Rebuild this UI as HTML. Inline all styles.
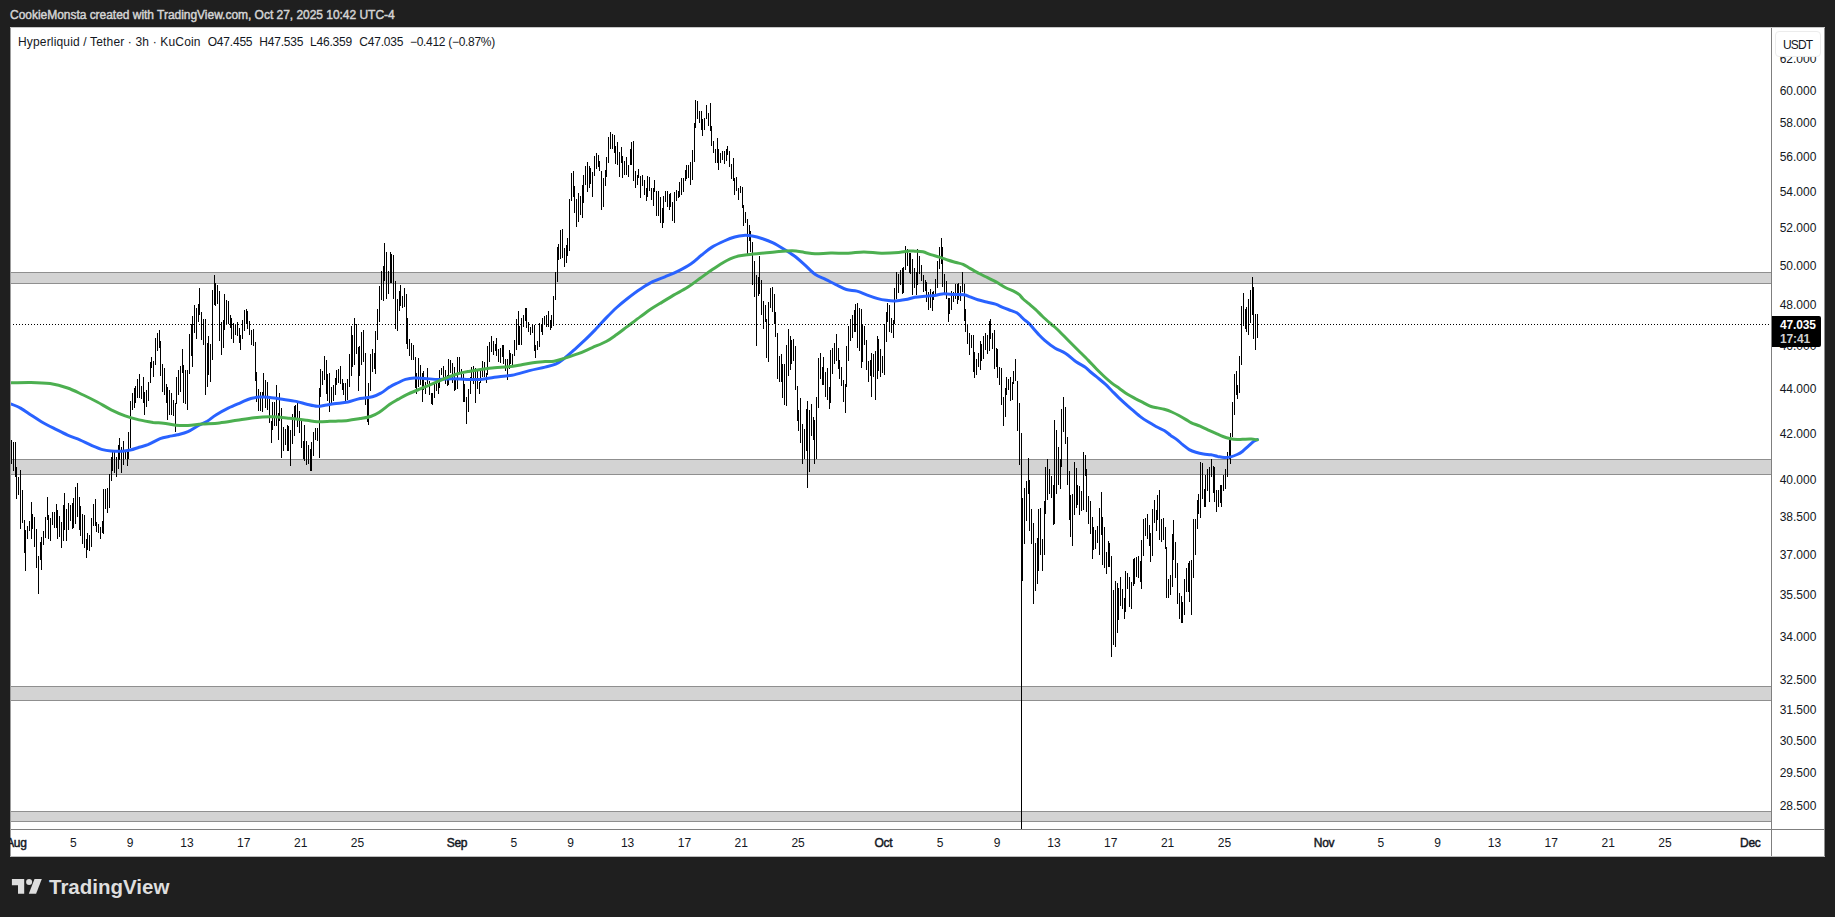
<!DOCTYPE html>
<html><head><meta charset="utf-8"><title>HYPEUSDT chart</title>
<style>
html,body{margin:0;padding:0;}
body{width:1835px;height:917px;background:#1f1f1f;overflow:hidden;position:relative;font-family:"Liberation Sans",sans-serif;}
#hdr{position:absolute;left:10px;top:7px;height:16px;line-height:16px;font-size:12px;font-weight:normal;color:#d4d4d4;-webkit-text-stroke:0.45px #d4d4d4;white-space:nowrap;letter-spacing:-0.03px;}
#chart{position:absolute;left:10px;top:27px;width:1815px;height:830px;background:#fff;overflow:hidden;}
#chart svg{position:absolute;left:0;top:0;}
#legend{position:absolute;left:8px;top:8px;height:14px;line-height:14px;font-size:12px;color:#131722;white-space:nowrap;letter-spacing:-0.2px;}
#legend span{position:absolute;top:0;}
.pl{position:absolute;left:1762px;width:52px;text-align:center;font-size:12px;height:14px;line-height:14px;color:#131722;}
.tl{position:absolute;top:809px;width:40px;margin-left:-20px;text-align:center;font-size:12px;height:14px;line-height:14px;color:#131722;}
.tl.b{font-weight:normal;-webkit-text-stroke:0.45px #131722;letter-spacing:-0.3px;}
#usdt{position:absolute;left:1765px;top:4px;width:44px;height:24px;border:1px solid #ececec;border-radius:4px;background:#fff;font-size:12px;line-height:26px;text-align:center;color:#131722;letter-spacing:-0.9px;text-indent:-0.9px;}
#last{position:absolute;left:1762px;top:289px;width:41px;padding-left:8px;height:31px;background:#000;border-radius:0 2px 2px 0;color:#fff;font-size:12px;text-align:left;letter-spacing:-0.15px;}
#last b{display:block;height:14px;line-height:14px;margin-top:2px;}
#last span{display:block;height:14px;line-height:14px;color:#d0d0d0;font-weight:bold;}
</style></head><body>
<div id="hdr">CookieMonsta created with TradingView.com, Oct 27, 2025 10:42 UTC-4</div>
<div id="chart">
<svg width="1815" height="830" viewBox="10 27 1815 830">
<rect x="10" y="272" width="1761" height="12" fill="#d3d3d3"/>
<rect x="10" y="272" width="1761" height="1" fill="#8f8f8f"/>
<rect x="10" y="283" width="1761" height="1" fill="#8f8f8f"/>
<rect x="10" y="459" width="1761" height="16" fill="#d3d3d3"/>
<rect x="10" y="459" width="1761" height="1" fill="#8f8f8f"/>
<rect x="10" y="474" width="1761" height="1" fill="#8f8f8f"/>
<rect x="10" y="686" width="1761" height="15" fill="#d3d3d3"/>
<rect x="10" y="686" width="1761" height="1" fill="#8f8f8f"/>
<rect x="10" y="700" width="1761" height="1" fill="#8f8f8f"/>
<rect x="10" y="811" width="1761" height="11" fill="#d3d3d3"/>
<rect x="10" y="811" width="1761" height="1" fill="#8f8f8f"/>
<rect x="10" y="821" width="1761" height="1" fill="#8f8f8f"/>
<path d="M11.5 440.1V463.7M13.5 442.1V470.5M15.5 442.1V476.7M16.5 466.9V498.8M18.5 477.2V494.7M20.5 470V528.6M22.5 490.2V522.8M24.5 520.1V552.7M25.5 530.1V570.8M27.5 526V538.7M29.5 521.1V530.6M31.5 502V539.4M32.5 514V528.6M34.5 517V546.8M36.5 529.1V567.7M38.5 556.1V593.7M40.5 541.9V559.6M41.5 537V569.7M43.5 531.1V544.5M45.5 517V537.7M47.5 497V519.6M48.5 515V538.7M50.5 518V540.6M52.5 512V524.7M54.5 512V527.7M56.5 504.2V527.7M57.5 510V539.4M59.5 516V536.5M61.5 522V547.6M63.5 504.9V540.6M64.5 493.1V529.6M66.5 509.1V540.6M68.5 502.9V529.6M70.5 505.2V520.6M72.5 502.9V528.6M73.5 498.1V527.7M75.5 487V523.7M77.5 483.1V516.6M79.5 497V529.6M80.5 506.1V535.7M82.5 514V543.6M84.5 515V547.6M86.5 539.1V557.6M87.5 533.1V549.7M89.5 535V550.7M91.5 518V546.8M93.5 504.2V525.7M95.5 499.1V526.2M96.5 522V531.8M98.5 523.9V532.6M100.5 527.2V538.7M102.5 521V533M103.5 489V533.6M105.5 489V508.6M107.5 488V512.5M109.5 474.3V507.8M111.5 457.1V480.6M112.5 451.7V470.8M114.5 452.2V472.8M116.5 457.1V476.7M118.5 444.8V468.9M119.5 438.1V459.5M121.5 447.1V472.8M123.5 441.1V464.7M125.5 450.7V459M127.5 452.2V465.7M128.5 432V459M130.5 400.9V447.8M132.5 393V409.6M134.5 387.8V407.9M135.5 386.1V402.6M137.5 379.1V398.3M139.5 374.2V398.3M141.5 386.1V399.1M143.5 377.3V402.6M144.5 392.2V414.9M146.5 390.4V407M148.5 381.7V400.9M150.5 361.6V382.6M151.5 356.7V367.7M153.5 360.8V377.3M155.5 338.1V365.1M157.5 333.2V351.2M159.5 330.2V347.7M160.5 340.7V375.6M162.5 364.2V392.2M164.5 368.1V394.8M166.5 384.3V402.6M167.5 386.9V420.1M169.5 389.5V414.9M171.5 393V414.9M173.5 400V415.7M175.5 402.6V432M176.5 377.3V404.4M178.5 370.3V394.8M180.5 366V392.2M182.5 349.4V373M183.5 365.1V402.6M185.5 369.5V404.4M187.5 370.3V409.6M189.5 334.2V373.8M191.5 324.1V356.4M192.5 316.2V366.9M194.5 304.9V332.8M196.5 307.5V338.9M198.5 304V322.4M199.5 288V314.5M201.5 311.9V339.8M203.5 318.9V345M205.5 318.5V394.8M207.5 343.3V386.9M208.5 336.3V374.7M210.5 344.2V381.7M212.5 290.1V359.9M214.5 275.2V304.9M215.5 283.1V305.8M217.5 284.8V304M219.5 290.9V340.7M221.5 321.5V354.6M223.5 319.7V347.7M224.5 294.4V330.2M226.5 299.7V324.1M228.5 301.1V324.1M230.5 315V327.6M231.5 318V338.9M233.5 323.2V342.9M235.5 325V335.4M237.5 322V336.3M239.5 327.6V343.3M240.5 335.4V349.8M242.5 320.3V338.6M244.5 309.8V331.1M246.5 309.3V324.1M247.5 311V329.3M249.5 320.6V335.4M251.5 330.2V345M253.5 329.3V345.9M255.5 341.9V380.8M256.5 372.1V401.6M258.5 388.7V410.9M260.5 392.2V411.4M262.5 392.3V411.9M263.5 373.3V395.7M265.5 379.9V407.9M267.5 381.7V409.6M269.5 399.1V422.7M271.5 421V442.8M272.5 401.8V430M274.5 402.1V426.1M276.5 384.9V425.6M278.5 413.4V439.9M279.5 392.8V421.2M281.5 407.9V457.5M283.5 427.1V450.7M285.5 429.1V444.8M287.5 425.1V450.7M288.5 425.6V450.7M290.5 430V465.9M292.5 414.3V443.8M294.5 406V435.9M295.5 405V417.8M297.5 403.1V426.6M299.5 410.9V433M301.5 420.2V447.7M303.5 440.8V458.5M304.5 425.1V461M306.5 441V465.4M308.5 445.3V464.4M310.5 449.2V470.5M311.5 442V470.5M313.5 432V456.1M315.5 428.1V439.9M317.5 428.1V440.8M319.5 388.2V458M320.5 369.4V396.7M322.5 371.2V384.5M324.5 355.8V379.9M326.5 359.8V393.7M327.5 373.7V400.6M329.5 373.2V411.9M331.5 386.8V403.6M333.5 385V401.1M335.5 378.1V394.7M336.5 369.7V384.5M338.5 369.3V383.3M340.5 366V383.9M342.5 379V389.8M343.5 383.3V394.7M345.5 382.9V401.1M347.5 379V399.6M349.5 354.1V386.9M351.5 325.8V375.7M352.5 334.8V366.8M354.5 318.2V365M356.5 324.4V353.7M358.5 347.2V390.8M359.5 345.8V375.7M361.5 332V365M363.5 330.1V361.9M365.5 353.1V404.5M367.5 399V421.5M368.5 382.9V424.7M370.5 354.1V390.8M372.5 349.2V371.7M374.5 352.8V369.4M375.5 331V373.7M377.5 309.1V339.8M379.5 285.6V321.7M381.5 271.1V300.4M383.5 266.4V301.3M384.5 242.9V280.7M386.5 251.9V298.7M388.5 271.3V294.3M390.5 251.9V283M391.5 254.2V283M393.5 255.1V298.7M395.5 280.7V329.2M397.5 299.2V330.7M399.5 290.8V311.3M400.5 285.3V305.7M402.5 296.1V308.3M404.5 288.2V307.4M406.5 294.3V344.1M407.5 318.2V348.7M409.5 339.2V355.5M411.5 343.3V359.8M413.5 344.9V359.5M415.5 357.1V388M416.5 373.3V394.4M418.5 358.1V387M420.5 365.1V384.6M422.5 372.8V401.7M423.5 371.3V389.5M425.5 382.1V394.4M427.5 368.2V384.1M429.5 381.1V395.4M431.5 393.4V403.7M432.5 393.4V404.7M434.5 384.1V397.8M436.5 383.1V391.4M438.5 383.1V393.9M439.5 370V387.5M441.5 368.2V374.7M443.5 366.2V378.2M445.5 370.3V383.6M447.5 375.2V385.5M448.5 359V384.6M450.5 360.2V372.8M452.5 363.2V382.6M454.5 367.2V391.4M455.5 378.2V390M457.5 357.1V388.5M459.5 357.1V374.3M461.5 369.2V378.2M463.5 374.3V401.7M464.5 384.1V401.7M466.5 397V423.8M468.5 389V411.7M470.5 377.2V393.9M471.5 367.2V377.7M473.5 366.2V383.6M475.5 368.4V402.7M477.5 370.8V388.5M479.5 382.1V393.9M480.5 371.3V382.6M482.5 361.2V377.2M484.5 362.2V377.2M486.5 373.3V382.9M487.5 346.3V375.2M489.5 342.1V361.7M491.5 336V351.7M493.5 341.1V354.6M495.5 344V350.7M496.5 338.1V355.6M498.5 349.2V361.7M500.5 348.2V362.5M502.5 345V356.6M503.5 345V364.4M505.5 359V370.5M507.5 359V379.8M509.5 350.2V368.9M510.5 353.2V364.4M512.5 354.1V364.9M514.5 340V355.6M516.5 318.9V349.7M518.5 311V344.8M519.5 326.2V344.8M521.5 317.9V344.8M523.5 315V326.7M525.5 308.1V320.8M526.5 308.1V327.7M528.5 322V331.6M530.5 326.7V334.8M532.5 324V332.6M534.5 325.3V351.2M535.5 344.8V357.8M537.5 341V349.7M539.5 323V346.8M541.5 323.8V331.6M542.5 317.9V334.8M544.5 315.9V324.3M546.5 315V326.7M548.5 311V326.7M550.5 319.9V329.7M551.5 315V327.7M553.5 296.1V325.8M555.5 272.3V299.7M557.5 247.1V281.7M558.5 244.1V259.9M560.5 230.1V258.8M562.5 229V257.7M564.5 247.9V267M566.5 245.2V262.8M567.5 237.9V255.5M569.5 199V250.8M571.5 173.3V200.9M573.5 171.1V196.5M574.5 186.4V213M576.5 199V226.8M578.5 193.3V221.7M580.5 196.1V214.7M582.5 185.2V217.9M583.5 175.1V202.7M585.5 166.4V184.6M587.5 162.2V191.7M589.5 166.4V188.3M590.5 167.6V183.9M592.5 172.4V196.5M594.5 156.1V176.4M596.5 153.2V168.6M598.5 155.1V167M599.5 161.4V171.4M601.5 171.1V209.6M603.5 178.3V206.5M605.5 170.1V186.4M606.5 157V177M608.5 137.3V162.6M610.5 132.1V148.8M612.5 134.4V149.4M614.5 135.3V153.2M615.5 146.3V163.9M617.5 142.3V164.5M619.5 152.3V176.7M621.5 146.9V163.2M622.5 156.3V177.7M624.5 161.4V175.4M626.5 157V174.5M628.5 165.1V176.7M630.5 149.4V165.1M631.5 142.3V165.1M633.5 141.3V181.4M635.5 171.1V187.7M637.5 174.5V185.2M638.5 169.3V177.7M640.5 176.1V197.7M642.5 175.1V186.4M644.5 180.2V194.6M646.5 187.7V200.5M647.5 176.4V196.5M649.5 177.4V190.8M651.5 187.7V199.6M653.5 188.3V205.9M654.5 180.2V192.1M656.5 191.4V215.5M658.5 191.2V215.5M660.5 197.1V222.8M662.5 207.8V227.6M663.5 196.2V223.4M665.5 191.2V201.7M667.5 191.2V206.5M669.5 194.2V209.6M670.5 193.3V207.1M672.5 202.1V220.5M674.5 192.1V222.8M676.5 190.4V200.9M678.5 190.8V197.7M679.5 182V196.5M681.5 178.3V194.6M683.5 178.3V191.7M685.5 169.5V180.8M686.5 165.4V178.9M688.5 165.1V177.7M690.5 162.4V185.4M692.5 150.1V179.9M694.5 123V161.6M695.5 100.1V127.6M697.5 101.3V118.8M699.5 111.3V122.7M701.5 111.3V129.6M702.5 119.3V135.8M704.5 118.3V129.6M706.5 105.2V118.8M708.5 113.2V125.7M710.5 103.2V130.6M711.5 126.3V145.7M713.5 141.3V152.6M715.5 149.2V162.6M717.5 138.2V162.6M718.5 149.2V170.4M720.5 152.6V162.6M722.5 151.3V159.5M724.5 151.3V163.6M726.5 149.4V160.7M727.5 146.3V154.5M729.5 151.3V167.4M731.5 163.9V178.7M733.5 158.2V181.4M734.5 178.3V194.6M736.5 177.4V191.4M738.5 187.9V199.6M740.5 186.2V192.7M742.5 187.1V207.8M743.5 204.6V225.6M745.5 212.1V222.8M747.5 219.1V253.8M749.5 225.3V240.5M750.5 231.2V251.8M752.5 242.2V284.7M754.5 261.1V296.5M756.5 275.1V345.5M758.5 276.8V296M759.5 256.2V293.5M761.5 280.3V314.6M763.5 301.1V328.9M765.5 305.3V322M766.5 318.6V357.8M768.5 301.8V361.7M770.5 288.1V307.8M772.5 287.1V311.7M774.5 294V324.4M775.5 312.2V336.7M777.5 333.3V378.9M779.5 356V381.7M781.5 354.1V381.7M782.5 364.2V397.6M784.5 364.2V404.7M786.5 345V405.7M788.5 329.2V376M790.5 336.2V369.8M791.5 340.1V363.7M793.5 339.2V360.8M795.5 346V389.7M797.5 386.3V420.6M798.5 409.8V430.7M800.5 398.1V442.7M802.5 424.1V463.8M804.5 429V459.4M806.5 409.2V450.6M807.5 401V487.9M809.5 409.8V471.7M811.5 404.1V435.8M813.5 417.2V439.8M814.5 420.1V463.8M816.5 397.1V459.4M818.5 358V407.6M820.5 353.1V379.4M822.5 367.1V385.3M823.5 357V384.8M825.5 372V396.6M827.5 368.1V399.5M829.5 387.3V408.6M830.5 350V402.5M832.5 348V374M834.5 343.1V363.7M836.5 334.1V360.8M838.5 348V368.6M839.5 360.3V379.4M841.5 367.1V385.6M843.5 380.1V401.5M845.5 383.8V412.6M846.5 346V386.8M848.5 326.2V360.8M850.5 319V340.6M852.5 315.1V337.7M854.5 310.2V331.8M855.5 304V331.8M857.5 303V348M859.5 308.2V350.9M861.5 309.2V367.6M862.5 324.1V361.7M864.5 326.2V344.6M866.5 340.1V369.8M868.5 361.2V381.7M870.5 360.3V376M871.5 353.1V396.6M873.5 354.1V376.5M875.5 351.1V399.5M877.5 336.2V379.4M878.5 339.2V370.6M880.5 349V376.5M882.5 356V373M884.5 324.1V375M886.5 312.2V341.9M887.5 303V321.5M889.5 305.3V331.8M891.5 318.1V332.8M893.5 320V337.7M894.5 288.1V324.4M896.5 272.4V299.4M898.5 273.9V292.5M900.5 269.5V285.2M902.5 268V293.5M903.5 267V292.5M905.5 246.2V270.4M907.5 249.3V266M909.5 253.3V272.9M910.5 252.8V274.4M912.5 259.2V294.5M914.5 268V287.6M916.5 271.9V294.5M917.5 249.3V285.2M919.5 256.2V273.9M921.5 265.2V280.6M923.5 275.2V292.4M925.5 280.1V291.4M926.5 282.1V301.7M928.5 291.9V309.8M930.5 289V307.6M932.5 291.9V310.6M933.5 290.9V299.8M935.5 279.2V295.8M937.5 261V287.5M939.5 247.3V269.3M941.5 238.1V263.5M942.5 247.3V286.5M944.5 274.3V293.9M946.5 281.1V298.8M948.5 297.8V321.8M949.5 297.8V313.5M951.5 290.9V309.8M953.5 291.9V301.7M955.5 283.6V298.8M957.5 283.6V303.7M958.5 283.1V299.8M960.5 286V300.8M962.5 272.1V291.9M964.5 284.1V320.7M965.5 308.9V331.5M967.5 324.4V343.8M969.5 333.3V354.6M971.5 335.2V347.7M973.5 335.2V371.7M974.5 352.1V377.6M976.5 359V374.7M978.5 353.1V366.8M980.5 341.1V369.8M981.5 344.3V360.9M983.5 336.2V358.5M985.5 333.3V349.7M987.5 335.2V353.6M989.5 321.2V350.6M990.5 318.9V339.3M992.5 333.3V348.7M994.5 330.2V368.8M996.5 348.2V366.8M997.5 349.2V377.6M999.5 367V384.5M1001.5 368V404.6M1003.5 397.3V425.7M1005.5 388.4V417.4M1006.5 377.1V395.3M1008.5 379.1V390.4M1010.5 377.1V400.7M1012.5 382V399.7M1013.5 371.2V383.5M1015.5 359V381.1M1017.5 381.1V430.6M1019.5 403.2V464.5M1021.5 433.1V829M1022.5 498.2V580.8M1024.5 488.1V543.5M1026.5 481.2V521.4M1028.5 458.1V493.5M1029.5 480.2V530.8M1031.5 509.2V543.5M1033.5 523.1V604.4M1035.5 543V590.6M1037.5 538.1V583.8M1038.5 509.2V570.5M1040.5 508.2V555.3M1042.5 539.1V570.5M1044.5 501.1V555.3M1045.5 466.9V513.6M1047.5 459.1V500.3M1049.5 468.9V493.5M1051.5 476.3V498.4M1053.5 485.1V525.4M1054.5 420V524.4M1056.5 430.1V493.5M1058.5 447V484.6M1060.5 459.1V488.6M1061.5 409V466.5M1063.5 397.3V431.6M1065.5 407.1V443.9M1067.5 437V484.6M1069.5 470.9V519.5M1070.5 495.2V536.6M1072.5 494.1V545.5M1074.5 462V514.6M1076.5 467.9V507.7M1077.5 485.1V505.2M1079.5 486.1V514.6M1081.5 491.2V510.6M1083.5 452.2V509.7M1085.5 455.2V476.3M1086.5 468.9V511.6M1088.5 496.2V523.9M1090.5 501.1V533.7M1092.5 517V558.7M1093.5 527V550.4M1095.5 530.3V549.4M1097.5 526V542.5M1099.5 508.2V555.3M1101.5 492.2V534.7M1102.5 517V564.6M1104.5 527V567.6M1106.5 551.8V573.7M1108.5 541.1V566.6M1109.5 543V566.6M1111.5 556.3V656.7M1113.5 590.1V644.8M1115.5 581.1V646.8M1117.5 583.3V632.8M1118.5 588.2V619.8M1120.5 577.2V605.8M1122.5 589.2V608.8M1124.5 598V618.6M1125.5 571.2V611.7M1127.5 573.2V588.7M1129.5 577.2V606.8M1131.5 582.1V608.8M1133.5 559.2V585.7M1134.5 558.2V583.8M1136.5 557.3V576.9M1138.5 556.3V577.9M1140.5 561.2V581.8M1141.5 540.1V588.7M1143.5 519V555.6M1145.5 518V535.7M1147.5 514.1V538.6M1149.5 525.1V546M1150.5 533.2V561.7M1152.5 509.2V555.6M1154.5 500V522.9M1156.5 510.1V530.8M1157.5 495.2V519.5M1159.5 490.2V539.8M1161.5 519V541.5M1163.5 518V539.8M1165.5 527V549.4M1166.5 546.9V598M1168.5 579.2V598M1170.5 575.2V594.6M1172.5 534V586.7M1173.5 520.3V559.7M1175.5 541.8V577.7M1177.5 563.2V603.9M1179.5 593.1V618.6M1181.5 596V622.5M1182.5 601.9V622.5M1184.5 579.2V614.7M1186.5 568.1V591.6M1188.5 563.2V591.6M1189.5 561.2V602.4M1191.5 560.2V614.5M1193.5 519.3V577.7M1195.5 519.3V554.6M1197.5 500.1V528.6M1198.5 494.3V514.4M1200.5 462.1V517.8M1202.5 463.3V498.7M1204.5 489.2V506.5M1205.5 475.1V506.5M1207.5 469.2V490.8M1209.5 467.3V501.6M1211.5 459.1V476.6M1213.5 466.3V492.8M1214.5 467.3V501.6M1216.5 490V511.9M1218.5 490V506.5M1220.5 485.2V503.1M1221.5 485.2V506.5M1223.5 475.1V490.5M1225.5 469.2V488.9M1227.5 451.8V476.6M1229.5 440V459M1230.5 433V463.8M1232.5 402V436.8M1234.5 374V414.8M1236.5 371.1V394.7M1237.5 385V398.6M1239.5 356.1V392.7M1241.5 306.1V364.7M1243.5 293.1V326.4M1245.5 309.3V329.4M1246.5 307.1V332.3M1248.5 299.1V334.8M1250.5 290.1V322.5M1252.5 277.1V314.7M1253.5 287.2V338.7M1255.5 314.2V349.5M1257.5 314.2V337.7" stroke="#000" stroke-width="1" fill="none" shape-rendering="crispEdges"/>
<path d="M10.0 403.7C11.8 404.4 17.0 406.2 20.5 408.1C24.0 410.0 27.4 412.7 30.9 415.0C34.4 417.3 37.6 419.5 41.4 421.7C45.2 423.9 49.2 425.9 53.6 428.1C58.0 430.3 63.2 433.2 67.6 435.1C72.0 437.1 75.7 438.1 79.8 439.8C83.9 441.6 88.2 444.0 92.0 445.6C95.8 447.2 99.3 448.7 102.5 449.6C105.7 450.5 108.0 450.7 111.2 451.0C114.4 451.3 118.5 451.4 121.7 451.2C124.9 451.0 127.5 450.6 130.4 450.0C133.3 449.4 136.2 448.2 139.1 447.3C142.0 446.4 144.4 446.1 147.9 444.7C151.4 443.2 156.6 440.0 160.1 438.6C163.6 437.2 165.9 437.1 168.8 436.5C171.7 435.9 174.3 435.6 177.5 434.8C180.7 434.0 184.5 433.2 188.0 431.6C191.5 430.1 195.3 427.2 198.5 425.5C201.7 423.8 204.3 422.9 207.2 421.2C210.1 419.4 212.4 417.2 215.9 415.0C219.4 412.8 224.1 410.1 228.2 408.1C232.3 406.1 236.6 404.4 240.4 402.8C244.2 401.2 247.6 399.4 250.8 398.5C254.0 397.6 256.7 397.3 259.6 397.1C262.5 396.9 264.8 396.9 268.3 397.2C271.8 397.5 275.9 398.3 280.5 399.0C285.1 399.7 291.8 400.5 296.2 401.4C300.6 402.3 303.2 403.4 306.7 404.2C310.2 405.0 314.1 406.1 317.2 406.3C320.2 406.5 322.2 405.7 325.0 405.3C327.8 404.9 330.2 404.4 334.0 403.8C337.8 403.2 343.5 402.9 347.9 402.0C352.2 401.1 356.0 399.4 360.1 398.5C364.2 397.6 368.9 397.7 372.4 396.8C375.9 395.9 378.2 394.6 381.1 393.0C384.0 391.4 386.9 388.6 389.8 386.9C392.7 385.1 395.9 383.8 398.5 382.5C401.1 381.2 402.9 380.1 405.5 379.4C408.1 378.7 411.0 378.2 414.2 378.1C417.4 378.0 420.6 378.3 424.7 378.5C428.8 378.7 434.0 379.4 438.7 379.4C443.4 379.4 448.0 378.7 452.6 378.7C457.2 378.7 461.9 379.4 466.6 379.5C471.3 379.6 476.0 379.8 480.6 379.4C485.2 379.0 489.3 378.0 494.5 377.3C499.7 376.6 506.2 376.3 512.0 375.2C517.8 374.1 523.9 372.0 529.4 370.6C534.9 369.2 540.7 368.2 545.1 367.1C549.5 366.0 552.4 365.6 555.6 364.2C558.8 362.8 561.1 360.9 564.3 358.4C567.5 355.9 571.3 352.4 574.8 349.3C578.3 346.2 581.8 343.0 585.3 339.7C588.8 336.4 592.2 332.9 595.7 329.3C599.2 325.7 602.7 321.5 606.2 317.9C609.7 314.3 613.2 310.7 616.7 307.5C620.2 304.3 623.2 301.8 627.2 298.7C631.2 295.6 636.2 291.8 640.5 289.0C644.8 286.2 648.6 283.7 652.7 281.7C656.8 279.7 660.8 278.5 664.9 276.8C669.0 275.1 672.7 273.8 677.1 271.6C681.5 269.4 687.0 266.5 691.1 263.7C695.2 260.9 698.1 257.8 701.6 255.0C705.1 252.2 708.2 249.4 712.0 247.1C715.8 244.8 720.4 242.7 724.2 241.0C728.0 239.3 731.5 237.9 734.7 237.0C737.9 236.1 740.5 235.6 743.4 235.4C746.3 235.2 749.0 235.4 752.2 236.0C755.4 236.6 759.1 237.6 762.6 238.7C766.1 239.8 769.6 241.1 773.1 242.8C776.6 244.5 780.1 246.7 783.6 248.9C787.1 251.1 790.6 253.2 794.1 255.8C797.6 258.4 801.0 261.5 804.5 264.6C808.0 267.7 811.5 271.7 815.0 274.2C818.5 276.7 822.0 277.7 825.5 279.4C829.0 281.1 832.4 282.9 835.9 284.6C839.4 286.3 842.9 288.4 846.4 289.5C849.9 290.6 853.4 290.2 856.9 291.1C860.4 292.0 863.8 293.9 867.3 295.1C870.8 296.4 874.6 297.7 877.8 298.6C881.0 299.5 883.6 299.9 886.5 300.3C889.4 300.7 892.1 301.0 895.3 300.9C898.5 300.8 902.4 300.1 905.7 299.5C909.0 298.9 911.8 297.8 915.0 297.3C918.2 296.8 921.5 296.6 924.8 296.3C928.1 296.0 931.6 295.8 934.6 295.4C937.6 295.0 939.2 294.1 942.5 293.9C945.8 293.7 950.7 294.3 954.3 294.4C957.9 294.5 961.5 294.3 964.1 294.7C966.7 295.1 967.7 295.9 970.0 296.8C972.3 297.7 974.9 298.9 977.8 299.8C980.7 300.7 984.6 301.5 987.6 302.2C990.6 302.9 992.9 303.3 995.5 304.2C998.1 305.1 1000.7 306.5 1003.3 307.6C1005.9 308.7 1008.9 309.7 1011.2 310.6C1013.5 311.5 1015.5 312.0 1017.1 313.0C1018.7 314.0 1019.9 315.4 1021.0 316.5C1022.1 317.6 1022.6 318.3 1023.9 319.4C1025.2 320.5 1026.5 321.0 1028.8 323.3C1031.1 325.6 1035.0 330.6 1037.7 333.4C1040.4 336.2 1041.8 337.8 1044.7 340.3C1047.6 342.8 1051.7 346.0 1055.2 348.2C1058.7 350.4 1062.2 351.1 1065.7 353.4C1069.2 355.7 1072.9 359.5 1076.1 361.8C1079.3 364.1 1082.6 365.4 1084.9 367.0C1087.2 368.6 1087.9 369.7 1090.0 371.5C1092.1 373.3 1095.0 375.5 1097.6 377.6C1100.1 379.7 1102.9 382.0 1105.3 384.2C1107.7 386.4 1109.6 388.5 1111.8 390.7C1114.0 392.9 1116.0 395.0 1118.4 397.3C1120.8 399.6 1123.5 402.1 1126.0 404.4C1128.5 406.7 1131.0 408.7 1133.6 410.9C1136.1 413.1 1138.8 415.5 1141.3 417.4C1143.8 419.3 1146.4 420.8 1148.9 422.3C1151.4 423.9 1154.0 425.3 1156.5 426.7C1159.0 428.1 1161.8 429.1 1164.2 430.5C1166.6 431.9 1168.5 433.8 1170.7 435.4C1172.9 436.9 1175.2 438.2 1177.2 439.8C1179.2 441.4 1180.7 443.1 1182.7 444.7C1184.7 446.3 1187.0 448.3 1189.2 449.6C1191.4 450.9 1193.4 451.6 1195.8 452.3C1198.2 453.0 1200.9 453.6 1203.4 454.0C1205.9 454.4 1208.6 454.4 1211.0 454.8C1213.4 455.2 1215.4 455.9 1217.6 456.4C1219.8 456.8 1221.9 457.4 1224.1 457.5C1226.3 457.6 1228.5 457.4 1230.7 456.9C1232.9 456.4 1235.2 455.4 1237.2 454.5C1239.2 453.6 1240.9 452.6 1242.7 451.2C1244.5 449.8 1246.3 447.9 1248.1 446.3C1249.9 444.7 1252.0 442.5 1253.6 441.4C1255.1 440.3 1256.8 439.8 1257.4 439.5" fill="none" stroke="#2962ff" stroke-width="3" stroke-linejoin="round" stroke-linecap="round"/>
<path d="M10.0 382.8C13.5 382.7 24.2 382.3 30.9 382.4C37.6 382.5 44.0 382.7 50.1 383.6C56.2 384.5 62.1 386.1 67.6 388.0C73.1 389.9 78.3 392.7 83.3 395.0C88.2 397.3 92.6 399.5 97.3 402.0C102.0 404.5 106.5 407.5 111.2 409.8C115.9 412.1 120.6 414.2 125.2 415.9C129.8 417.6 134.4 418.8 139.1 419.9C143.8 421.0 149.0 421.8 153.1 422.4C157.2 422.9 159.8 422.7 163.6 423.2C167.4 423.7 171.7 424.8 175.8 425.2C179.9 425.6 183.6 425.7 188.0 425.5C192.4 425.3 196.8 424.5 202.0 424.1C207.2 423.7 213.6 423.5 219.4 422.9C225.2 422.3 231.1 421.2 236.9 420.3C242.7 419.4 248.5 418.3 254.3 417.7C260.1 417.1 266.0 416.7 271.8 416.8C277.6 416.9 283.4 417.6 289.2 418.2C295.0 418.8 302.0 419.7 306.7 420.3C311.4 420.9 313.3 421.5 317.2 421.7C321.1 421.9 327.2 421.4 330.0 421.3C332.8 421.2 331.0 421.4 334.0 421.2C337.0 421.0 343.5 420.8 347.9 420.4C352.2 420.0 356.3 419.2 360.1 418.6C363.9 418.0 367.4 417.6 370.6 416.5C373.8 415.4 376.1 414.2 379.3 412.2C382.5 410.2 386.6 406.5 389.8 404.3C393.0 402.1 395.6 400.8 398.5 399.1C401.4 397.5 404.1 395.9 407.3 394.4C410.5 392.9 413.6 391.7 417.7 390.0C421.8 388.3 427.0 386.2 431.7 384.2C436.4 382.2 441.3 379.8 445.7 378.1C450.1 376.4 454.1 374.9 457.9 373.8C461.7 372.7 464.5 372.2 468.3 371.5C472.1 370.8 476.2 370.0 480.6 369.4C485.0 368.8 489.9 368.1 494.5 367.7C499.1 367.3 504.1 367.2 508.5 366.8C512.9 366.4 516.6 365.7 520.7 365.0C524.8 364.3 528.8 363.4 532.9 362.8C537.0 362.2 541.6 361.9 545.1 361.6C548.6 361.3 550.7 361.7 553.9 361.2C557.1 360.7 560.2 359.6 564.3 358.4C568.4 357.1 573.6 355.5 578.3 353.7C583.0 351.9 587.6 349.6 592.3 347.6C596.9 345.6 602.1 343.7 606.2 341.5C610.3 339.3 613.2 337.0 616.7 334.5C620.2 332.0 623.2 329.6 627.2 326.6C631.2 323.6 636.5 319.5 640.5 316.6C644.5 313.7 647.4 311.4 650.9 309.1C654.4 306.8 657.6 304.9 661.4 302.6C665.2 300.3 669.2 297.7 673.6 295.1C678.0 292.6 683.2 290.1 687.6 287.3C692.0 284.5 695.7 281.4 699.8 278.5C703.9 275.6 707.9 272.6 712.0 269.8C716.1 267.1 720.4 264.1 724.2 262.0C728.0 259.9 731.2 258.2 734.7 257.1C738.2 256.0 741.1 255.7 745.2 255.1C749.3 254.5 753.9 254.1 759.1 253.6C764.3 253.1 771.1 252.3 776.6 251.8C782.1 251.3 787.6 250.7 792.3 250.8C796.9 250.9 800.7 251.9 804.5 252.4C808.3 252.9 810.6 253.7 815.0 253.8C819.4 253.9 825.2 253.2 830.7 253.1C836.2 253.0 842.7 253.4 848.2 253.2C853.7 253.0 858.4 252.0 863.9 252.0C869.4 252.0 875.5 253.1 881.3 253.2C887.1 253.3 894.1 252.8 898.8 252.4C903.4 252.1 906.5 251.3 909.2 251.1C911.9 250.9 912.7 251.1 915.0 251.2C917.3 251.3 920.3 251.1 922.9 251.7C925.5 252.3 927.9 253.7 930.7 254.6C933.5 255.5 936.5 256.2 939.5 257.1C942.5 258.1 945.6 259.4 948.4 260.3C951.2 261.2 953.8 261.8 956.2 262.5C958.7 263.2 960.8 263.4 963.1 264.4C965.4 265.4 967.4 266.9 970.0 268.4C972.6 269.9 975.9 271.8 978.8 273.3C981.7 274.9 984.6 276.2 987.6 277.7C990.6 279.2 993.5 280.5 996.5 282.1C999.5 283.7 1002.5 286.0 1005.3 287.5C1008.1 289.0 1010.8 289.8 1013.1 290.9C1015.4 292.0 1017.4 293.1 1019.0 294.4C1020.6 295.7 1021.3 297.2 1022.9 298.8C1024.5 300.4 1026.7 301.9 1028.8 303.7C1030.9 305.5 1033.4 307.5 1035.7 309.6C1038.0 311.7 1040.0 314.1 1042.6 316.5C1045.2 318.9 1049.0 322.2 1051.4 324.3C1053.8 326.4 1054.2 326.5 1056.9 329.0C1059.6 331.5 1063.9 336.0 1067.4 339.5C1070.9 343.0 1074.4 346.5 1077.9 350.0C1081.4 353.5 1085.2 357.2 1088.3 360.4C1091.4 363.6 1093.8 366.3 1096.5 369.0C1099.2 371.7 1101.7 374.1 1104.2 376.5C1106.8 378.9 1109.3 381.1 1111.8 383.1C1114.3 385.1 1116.9 386.7 1119.4 388.5C1122.0 390.3 1124.4 392.3 1127.1 394.0C1129.8 395.7 1132.9 397.3 1135.8 398.9C1138.7 400.4 1142.0 402.0 1144.5 403.3C1147.0 404.6 1148.9 405.7 1151.1 406.5C1153.3 407.3 1155.4 407.4 1157.6 407.9C1159.8 408.4 1161.8 408.6 1164.2 409.3C1166.6 410.0 1169.3 410.9 1171.8 412.0C1174.3 413.1 1177.0 414.5 1179.4 415.8C1181.8 417.1 1184.0 418.4 1186.0 419.6C1188.0 420.8 1189.1 421.8 1191.4 422.9C1193.8 424.0 1197.4 425.0 1200.1 426.2C1202.8 427.4 1205.2 428.6 1207.8 429.8C1210.3 431.0 1212.9 432.1 1215.4 433.2C1217.9 434.3 1220.6 435.6 1223.0 436.5C1225.4 437.4 1227.2 438.0 1229.6 438.5C1232.0 439.0 1234.7 439.4 1237.2 439.5C1239.8 439.6 1242.5 439.3 1244.9 439.2C1247.3 439.1 1249.3 439.0 1251.4 439.1C1253.5 439.2 1256.4 439.7 1257.4 439.8" fill="none" stroke="#4caf50" stroke-width="3" stroke-linejoin="round" stroke-linecap="round"/>
<line x1="10" y1="324.5" x2="1771" y2="324.5" stroke="#000" stroke-width="1" stroke-dasharray="1 2" shape-rendering="crispEdges"/>
<rect x="1771" y="27" width="1" height="830" fill="#7f7f7f"/>
<rect x="10" y="829" width="1815" height="1" fill="#7f7f7f"/>
<rect x="10" y="27" width="1" height="830" fill="#9c9c9c"/>
<rect x="1824" y="27" width="1" height="830" fill="#8f8f8f"/>
<rect x="10" y="27" width="1815" height="1" fill="#c7c7c7"/>
<rect x="10" y="856" width="1815" height="1" fill="#bcbcbc"/>
</svg>
<div id="legend"><span style="left:0;letter-spacing:0.16px">Hyperliquid / Tether · 3h · KuCoin</span><span style="left:189.7px">O47.455</span><span style="left:241.3px">H47.535</span><span style="left:292px">L46.359</span><span style="left:341.3px">C47.035</span><span style="left:392px;letter-spacing:-0.3px">−0.412 (−0.87%)</span></div>
<div class="pl" style="top:25.2px">62.000</div><div class="pl" style="top:56.7px">60.000</div><div class="pl" style="top:89.3px">58.000</div><div class="pl" style="top:123.0px">56.000</div><div class="pl" style="top:158.0px">54.000</div><div class="pl" style="top:194.2px">52.000</div><div class="pl" style="top:231.9px">50.000</div><div class="pl" style="top:271.2px">48.000</div><div class="pl" style="top:312.1px">46.000</div><div class="pl" style="top:354.8px">44.000</div><div class="pl" style="top:399.5px">42.000</div><div class="pl" style="top:446.4px">40.000</div><div class="pl" style="top:483.1px">38.500</div><div class="pl" style="top:521.3px">37.000</div><div class="pl" style="top:561.1px">35.500</div><div class="pl" style="top:602.6px">34.000</div><div class="pl" style="top:645.9px">32.500</div><div class="pl" style="top:676.0px">31.500</div><div class="pl" style="top:707.0px">30.500</div><div class="pl" style="top:739.0px">29.500</div><div class="pl" style="top:772.2px">28.500</div>
<div id="usdt">USDT</div>
<div id="last"><b>47.035</b><span>17:41</span></div>
<div class="tl b" style="left:6.4px">Aug</div><div class="tl" style="left:63.3px">5</div><div class="tl" style="left:120.1px">9</div><div class="tl" style="left:177.0px">13</div><div class="tl" style="left:233.8px">17</div><div class="tl" style="left:290.7px">21</div><div class="tl" style="left:347.5px">25</div><div class="tl b" style="left:447.0px">Sep</div><div class="tl" style="left:503.9px">5</div><div class="tl" style="left:560.7px">9</div><div class="tl" style="left:617.6px">13</div><div class="tl" style="left:674.4px">17</div><div class="tl" style="left:731.3px">21</div><div class="tl" style="left:788.1px">25</div><div class="tl b" style="left:873.4px">Oct</div><div class="tl" style="left:930.2px">5</div><div class="tl" style="left:987.1px">9</div><div class="tl" style="left:1043.9px">13</div><div class="tl" style="left:1100.8px">17</div><div class="tl" style="left:1157.6px">21</div><div class="tl" style="left:1214.5px">25</div><div class="tl b" style="left:1314.0px">Nov</div><div class="tl" style="left:1370.8px">5</div><div class="tl" style="left:1427.7px">9</div><div class="tl" style="left:1484.5px">13</div><div class="tl" style="left:1541.3px">17</div><div class="tl" style="left:1598.2px">21</div><div class="tl" style="left:1655.0px">25</div><div class="tl b" style="left:1740.3px">Dec</div>
</div>
<svg id="logo" style="position:absolute;left:0;top:870px" width="200" height="40" viewBox="0 870 200 40">
<g fill="#dedede">
<path d="M11.9 879H24.2V893.8H18V885.2H11.9Z"/>
<circle cx="29.1" cy="882" r="3"/>
<path d="M34.5 879H41.8L36.1 893.8H28.8Z"/>
<text x="49" y="893.8" font-family="'Liberation Sans',sans-serif" font-weight="bold" font-size="20.4" textLength="120.4" lengthAdjust="spacingAndGlyphs">TradingView</text>
</g></svg>
</body></html>
